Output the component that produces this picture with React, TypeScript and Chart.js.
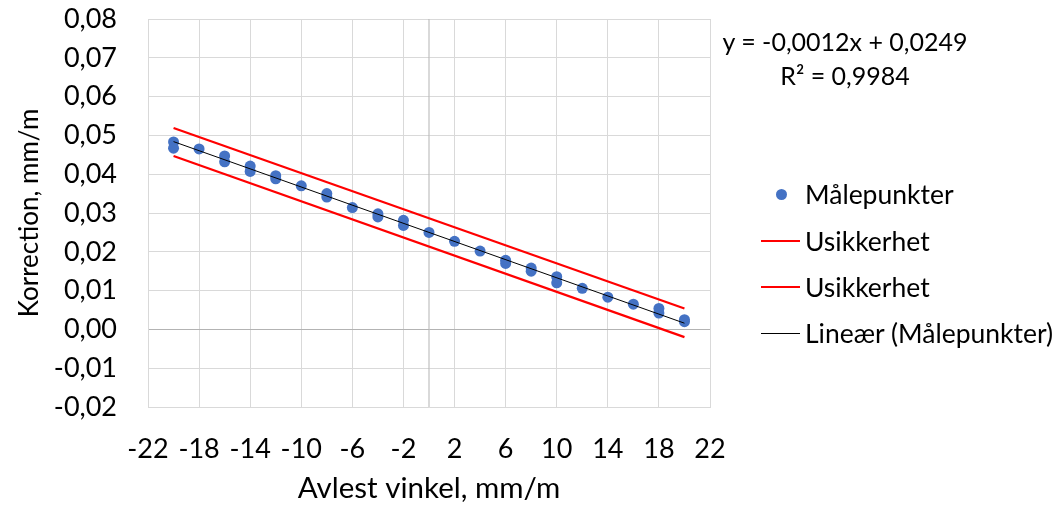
import React, { useEffect, useRef } from "react";
import { Chart, registerables } from "chart.js";

Chart.register(...registerables);

// ---- data ----
const angleReadings = [
  -20, -20, -18, -16, -16, -14, -14, -12, -12, -10, -8, -8, -6, -4, -4, -2, -2,
  0, 2, 4, 6, 6, 8, 8, 10, 10, 12, 14, 16, 18, 18, 20, 20,
];
const corrections = [
  0.0483, 0.0467, 0.0465, 0.0447, 0.0432, 0.0421, 0.0407, 0.0396, 0.0388,
  0.037, 0.035, 0.0341, 0.0314, 0.0298, 0.029, 0.0281, 0.0268, 0.025, 0.0227,
  0.0202, 0.0178, 0.017, 0.0158, 0.015, 0.0136, 0.012, 0.0106, 0.0083, 0.0065,
  0.0054, 0.0042, 0.0025, 0.002,
];
const bandX = [-20, 20];
const upperBand = [0.0519, 0.0054];
const lowerBand = [0.0447, -0.002];
const trendX = [-20, 20];
const trendY = [0.0484, 0.0016];
const zeroAxisX = [0, 0];
const zeroAxisY = [-0.02, 0.08];

const xMin = -22;
const xMax = 22;
const xStep = 4;
const yMin = -0.02;
const yMax = 0.08;
const yStep = 0.01;

const seriesNames = ["Målepunkter", "Usikkerhet", "Usikkerhet", "Lineær (Målepunkter)"];
const equationLines = ["y = -0,0012x + 0,0249", "R² = 0,9984"];
const xTitle = "Avlest vinkel, mm/m";
const yTitle = "Korrection, mm/m";

const FONT = "Lato, 'Open Sans', sans-serif";
const BLUE = "#4472C4";
const RED = "#FF0000";

const pts = (xs: number[], ys: number[]) => xs.map((x, i) => ({ x, y: ys[i] }));

export default function App() {
  const canvasRef = useRef<HTMLCanvasElement | null>(null);

  useEffect(() => {
    document.body.style.margin = "0";
    const ctx = canvasRef.current!;
    const chart = new Chart(ctx, {
      type: "scatter",
      data: {
        datasets: [
          {
            label: seriesNames[3],
            type: "line",
            data: pts(trendX, trendY),
            borderColor: "#000000",
            borderWidth: 1,
            pointRadius: 0,
            fill: false,
            order: 0,
          },
          {
            label: seriesNames[0],
            data: pts(angleReadings, corrections),
            backgroundColor: BLUE,
            borderColor: BLUE,
            borderWidth: 0,
            pointRadius: 5.5,
            order: 1,
          },
          {
            label: seriesNames[1],
            type: "line",
            data: pts(bandX, upperBand),
            borderColor: RED,
            borderWidth: 2.25,
            pointRadius: 0,
            fill: false,
            order: 2,
          },
          {
            label: seriesNames[2],
            type: "line",
            data: pts(bandX, lowerBand),
            borderColor: RED,
            borderWidth: 2.25,
            pointRadius: 0,
            fill: false,
            order: 2,
          },
          {
            label: "axis",
            type: "line",
            data: pts(zeroAxisX, zeroAxisY),
            borderColor: "#b3b3b3",
            borderWidth: 1,
            pointRadius: 0,
            fill: false,
            order: 3,
          },
        ],
      },
      options: {
        responsive: false,
        devicePixelRatio: 1,
        animation: false,
        layout: { padding: { left: 0, top: 19, right: 350, bottom: 0 } },
        plugins: {
          legend: { display: false },
          tooltip: { enabled: false },
        },
        scales: {
          x: {
            type: "linear",
            min: xMin,
            max: xMax,
            ticks: {
              stepSize: xStep,
              padding: 26,
              color: "#000",
              font: { family: FONT, size: 27 },
              callback: (v: any) => String(v),
            },
            grid: { color: "#d9d9d9", drawTicks: false, lineWidth: 1 },
            border: { color: "#d9d9d9" },
            title: {
              display: true,
              text: xTitle,
              color: "#000",
              font: { family: FONT, size: 29.5 },
              padding: { top: 0, bottom: 5 },
            },
            afterFit: (scale: any) => {
              scale.height = 104;
              scale.paddingLeft = 0;
              scale.paddingRight = 0;
              scale.paddingTop = 0;
              scale.paddingBottom = 0;
            },
          },
          y: {
            type: "linear",
            min: yMin,
            max: yMax,
            ticks: {
              stepSize: yStep,
              padding: 31,
              color: "#000",
              font: { family: FONT, size: 27 },
              callback: (v: any) => Number(v).toFixed(2).replace(".", ","),
            },
            grid: {
              drawTicks: false,
              lineWidth: 1,
              color: (c: any) =>
                c.tick && Math.abs(c.tick.value) < 1e-9 ? "#b3b3b3" : "#d9d9d9",
            },
            border: { color: "#d9d9d9" },
            title: {
              display: true,
              text: yTitle,
              color: "#000",
              font: { family: FONT, size: 26 },
              padding: { top: 14, bottom: 0 },
            },
            afterFit: (scale: any) => {
              scale.width = 148;
              scale.paddingLeft = 0;
              scale.paddingRight = 0;
              scale.paddingTop = 0;
              scale.paddingBottom = 0;
            },
          },
        },
      },
    } as any);
    return () => chart.destroy();
  }, []);

  const textStyle: React.CSSProperties = {
    position: "absolute",
    fontFamily: FONT,
    fontSize: 26.5,
    lineHeight: "30px",
    color: "#000",
    whiteSpace: "nowrap",
  };
  const legendRows = [194, 241, 287, 333];

  return (
    <div style={{ position: "absolute", left: 0, top: 0, width: 1060, height: 511, background: "#fff" }}>
      <canvas ref={canvasRef} width={1060} height={511} style={{ display: "block" }} />
      {equationLines.map((t, i) => (
        <div
          key={"eq" + i}
          style={{ ...textStyle, left: 695, width: 300, textAlign: "center", top: [41, 75][i] - 15, fontSize: 25 }}
        >
          {t}
        </div>
      ))}
      <div
        style={{
          position: "absolute",
          left: 781 - 5.5,
          top: legendRows[0] - 5.5,
          width: 11,
          height: 11,
          borderRadius: "50%",
          background: BLUE,
        }}
      />
      {[1, 2, 3].map((i) => (
        <div
          key={"ln" + i}
          style={{
            position: "absolute",
            left: 761,
            width: 39,
            top: legendRows[i] - (i === 3 ? 0.5 : 1.25),
            height: i === 3 ? 1 : 2.5,
            background: i === 3 ? "#000" : RED,
          }}
        />
      ))}
      {seriesNames.map((t, i) => (
        <div key={"lg" + i} style={{ ...textStyle, left: 805, top: legendRows[i] - 15 }}>
          {t}
        </div>
      ))}
    </div>
  );
}
